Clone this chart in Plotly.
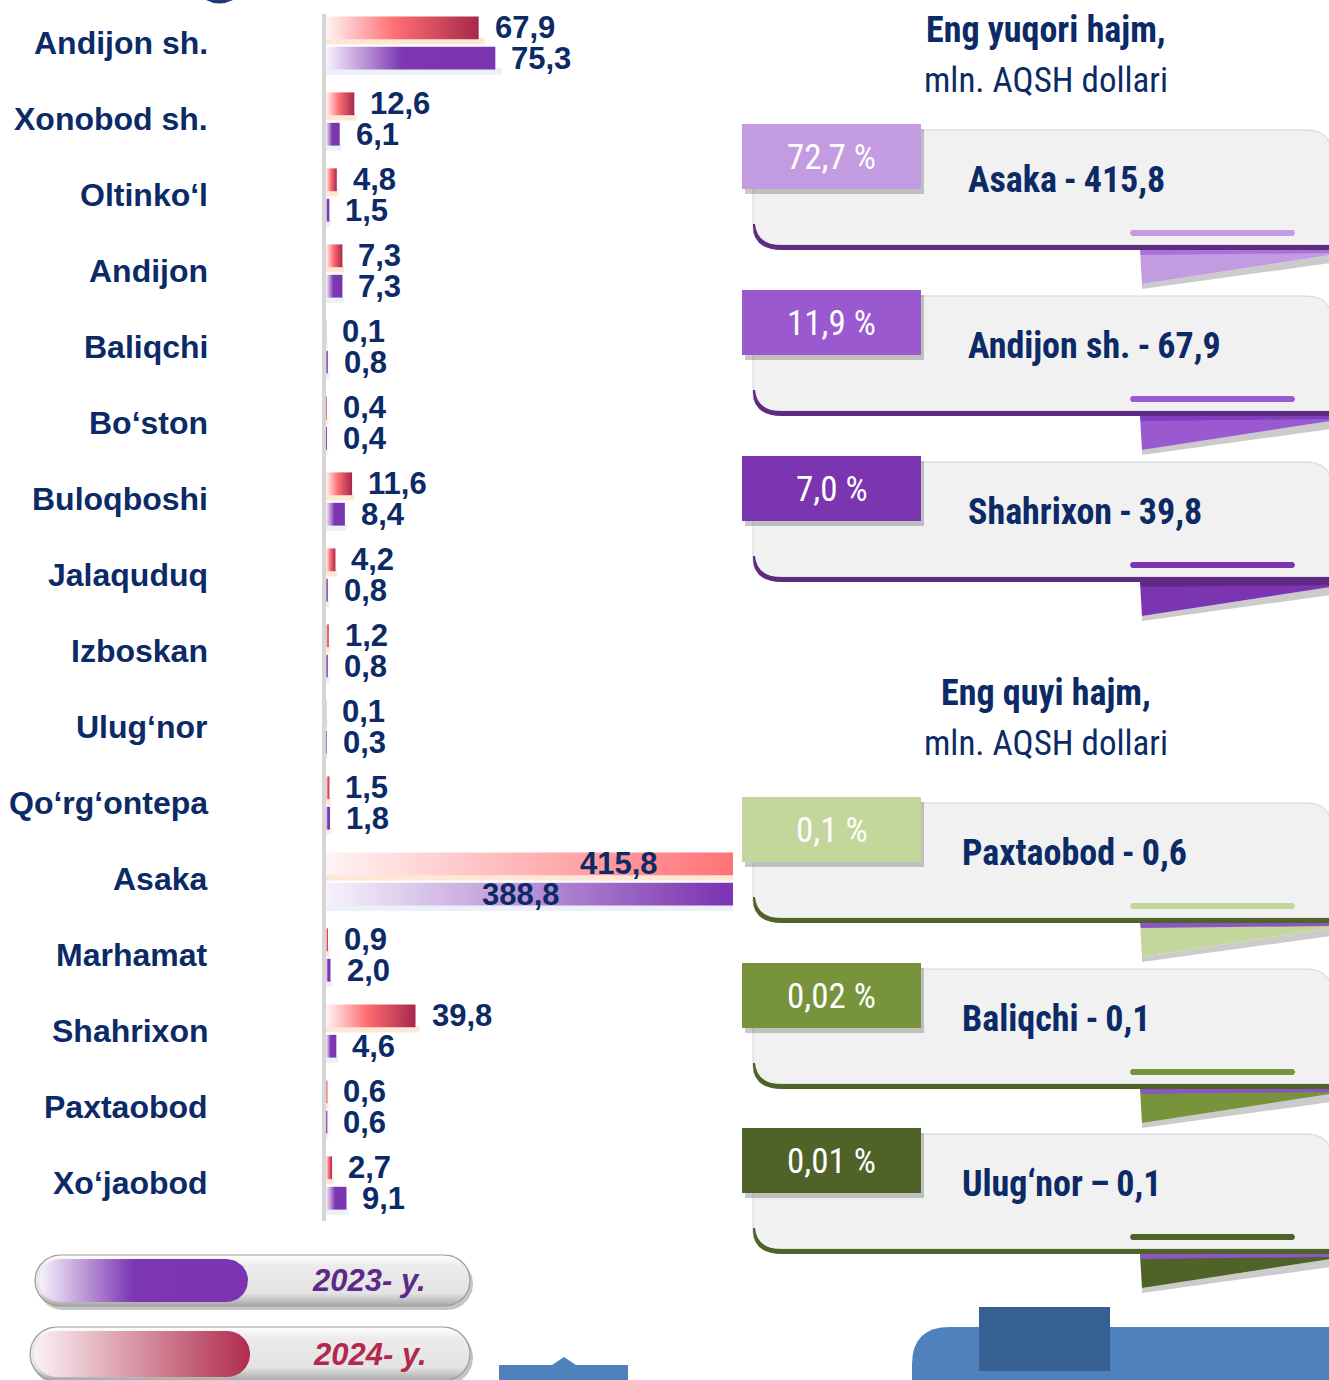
import numpy as np
import plotly.graph_objects as go

# ---- data -------------------------------------------------------------
districts = ["Andijon sh.", "Xonobod sh.", "Oltinko‘l", "Andijon", "Baliqchi", "Bo‘ston",
             "Buloqboshi", "Jalaquduq", "Izboskan", "Ulug‘nor", "Qo‘rg‘ontepa", "Asaka",
             "Marhamat", "Shahrixon", "Paxtaobod", "Xo‘jaobod"]
vol_2024 = [67.9, 12.6, 4.8, 7.3, 0.1, 0.4, 11.6, 4.2, 1.2, 0.1, 1.5, 415.8, 0.9, 39.8, 0.6, 2.7]
vol_2023 = [75.3, 6.1, 1.5, 7.3, 0.8, 0.4, 8.4, 0.8, 0.8, 0.3, 1.8, 388.8, 2.0, 4.6, 0.6, 9.1]

legend_years = ["2023- y.", "2024- y."]

headings = ["Eng yuqori hajm,", "Eng quyi hajm,"]
unit_text = "mln. AQSH dollari"

top_labels = ["Asaka\u2009-\u2009415,8", "Andijon sh.\u2009-\u200967,9", "Shahrixon\u2009-\u200939,8"]
top_shares = ["72,7 %", "11,9 %", "7,0 %"]
low_labels = ["Paxtaobod\u2009-\u20090,6", "Baliqchi\u2009-\u20090,1", "Ulug‘nor\u2009–\u20090,1"]
low_shares = ["0,1 %", "0,02 %", "0,01 %"]

# ---- styling ----------------------------------------------------------
W, H = 1329, 1380
NAVY = "#0c2a66"
FONT = "Liberation Sans, Arial, sans-serif"
NARROW = "Noto Sans Condensed, Roboto Condensed, Liberation Sans Narrow, Arial Narrow, sans-serif"
RED_SCALE = [[0, "#fff4f4"], [0.45, "#ff6e72"], [1, "#a6284b"]]
PURPLE_SCALE = [[0, "#f7f2fb"], [0.45, "#7d37b2"], [1, "#7a34b0"]]
X_MAX = 181  # the axis ends here; longer bars run off the right edge


def fmt(v):
    return f"{v:.1f}".replace(".", ",")


fig = go.Figure()

# ---- bars (drawn as gradient-filled boxes on the x/y axes) -------------
for i, (v24, v23) in enumerate(zip(vol_2024, vol_2023)):
    for v, y0, y1, scale, glow in (
        (v24, i - 0.35, i - 0.05, RED_SCALE, "rgba(250,185,135,0.35)"),
        (v23, i + 0.05, i + 0.35, PURPLE_SCALE, "rgba(200,212,235,0.35)"),
    ):
        # soft glow under the bar
        fig.add_trace(go.Scatter(
            x=[0, v * 1.03 + 0.6, v * 1.03 + 0.6, 0, 0],
            y=[y1 - 0.02, y1 - 0.02, y1 + 0.07, y1 + 0.07, y1 - 0.02],
            mode="lines", line=dict(width=0), fill="toself", fillcolor=glow,
            hoverinfo="skip", showlegend=False, xaxis="x", yaxis="y"))
        fig.add_trace(go.Scatter(
            x=[0, v, v, 0, 0], y=[y0, y0, y1, y1, y0],
            mode="lines", line=dict(width=0), fill="toself",
            fillgradient=dict(type="horizontal", colorscale=scale, start=0, stop=v),
            hoverinfo="skip", showlegend=False, xaxis="x", yaxis="y"))

annotations = []
for i, name in enumerate(districts):
    annotations.append(dict(
        x=210 / W, xref="paper", y=i, yref="y", text=name, showarrow=False,
        xanchor="right", yanchor="middle",
        font=dict(family=FONT, size=32, color=NAVY, weight="bold")))
    for v, yc, inside_pos in ((vol_2024[i], i - 0.2, 0.72), (vol_2023[i], i + 0.2, 0.478)):
        if v > X_MAX:
            annotations.append(dict(
                x=X_MAX * inside_pos, xref="x", y=yc, yref="y", text=fmt(v),
                showarrow=False, xanchor="center", yanchor="middle",
                font=dict(family=FONT, size=31, color=NAVY, weight="bold")))
        else:
            annotations.append(dict(
                x=v, xref="x", y=yc, yref="y", text=fmt(v), showarrow=False,
                xanchor="left", yanchor="middle", xshift=14,
                font=dict(family=FONT, size=31, color=NAVY, weight="bold")))

# ---- decoration layer in page pixels (x2/y2) --------------------------
shapes = []


def px_path(d, fill, line_color=None, line_width=0, layer="above"):
    shapes.append(dict(type="path", path=d, xref="x2", yref="y2", fillcolor=fill,
                       line=dict(color=line_color or fill, width=line_width), layer=layer))


def px_rect(x0, y0, x1, y1, fill, layer="above"):
    shapes.append(dict(type="rect", x0=x0, y0=y0, x1=x1, y1=y1, xref="x2", yref="y2",
                       fillcolor=fill, line=dict(width=0), layer=layer))


# value axis line
shapes.append(dict(type="line", x0=324, x1=324, y0=14, y1=1221, xref="x2", yref="y2",
                   line=dict(color="#d6d6d6", width=4)))

# small mark at the top edge
px_path("M 206,0 Q 219,7 233,0 Z", "#1f3a6e")


def card(top, tab_color, border_color, strip_color, share, label, label_x):
    x_tab0, x_tab1 = 742, 921
    # body
    px_path(f"M 753,{top+6} L 1305,{top+6} Q 1331,{top+6} 1331,{top+28} "
            f"L 1331,{top+121} L 776,{top+121} Q 753,{top+121} 753,{top+104} Z",
            "#f1f1f1", "#d4d4d4", 1)
    # curled bottom edge
    px_path(f"M 753,{top+100} Q 752,{top+126} 782,{top+126} L 1331,{top+126} "
            f"L 1331,{top+121} L 782,{top+121} Q 757,{top+121} 755,{top+100} Z",
            border_color)
    # accent line
    px_path(f"M 1132,{top+106} L 1293,{top+106} Q 1297,{top+109} 1293,{top+112} "
            f"L 1132,{top+112} Q 1128,{top+109} 1132,{top+106} Z", tab_color)
    # folded ribbon end
    px_path(f"M 1142,{top+160} L 1331,{top+131} L 1331,{top+139} L 1142,{top+165} Z",
            "rgba(70,70,70,0.28)")
    px_path(f"M 1140,{top+126} L 1331,{top+126} L 1331,{top+131} L 1142,{top+160} Z",
            tab_color)
    px_path(f"M 1140,{top+126} L 1331,{top+126} L 1331,{top+129} L 1141,{top+131} Z",
            strip_color)
    # tab with drop shadow
    px_rect(x_tab0 + 3, top + 5, x_tab1 + 3, top + 70, "rgba(60,60,60,0.28)")
    px_rect(x_tab0, top, x_tab1, top + 65, tab_color)
    annotations.append(dict(x=(x_tab0 + x_tab1) / 2, y=top + 33, xref="x2", yref="y2",
                            text=share, showarrow=False, xanchor="center", yanchor="middle",
                            font=dict(family=NARROW, size=35, color="white")))
    annotations.append(dict(x=label_x, y=top + 56, xref="x2", yref="y2",
                            text=label, showarrow=False, xanchor="left", yanchor="middle",
                            font=dict(family=NARROW, size=36, color=NAVY, weight="bold")))


top_tabs = ["#c39be0", "#9b59d0", "#7b35b0"]
top_strips = ["#a673d6", "#7d3fbc", "#5e2a86"]
low_tabs = ["#c3d69b", "#77933c", "#4f6228"]
for k, top in enumerate([124, 290, 456]):
    card(top, top_tabs[k], "#5e2a84", top_strips[k], top_shares[k], top_labels[k], 966)
for k, top in enumerate([797, 963, 1128]):
    card(top, low_tabs[k], "#4f6228", "#8b55c4", low_shares[k], low_labels[k], 960)

for head, yh in zip(headings, [30, 693]):
    annotations.append(dict(x=1046, y=yh, xref="x2", yref="y2", text=head, showarrow=False,
                            xanchor="center", yanchor="middle",
                            font=dict(family=NARROW, size=36, color=NAVY, weight="bold")))
    annotations.append(dict(x=1046, y=yh + 50, xref="x2", yref="y2", text=unit_text,
                            showarrow=False, xanchor="center", yanchor="middle",
                            font=dict(family=NARROW, size=35, color=NAVY)))

# bottom blue blocks
px_path("M 912,1381 L 912,1364 Q 912,1327 950,1327 L 1331,1327 L 1331,1381 Z", "#4f81bd")
px_rect(979, 1307, 1110, 1371, "#366092")
px_path("M 499,1381 L 499,1365 L 552,1365 L 564,1357 L 576,1365 L 628,1365 L 628,1381 Z",
        "#4f81bd")


# legend pills
def pill(x0, x1, y0, y1, n=30):
    r = (y1 - y0) / 2
    cy = (y0 + y1) / 2
    a = np.linspace(-np.pi / 2, np.pi / 2, n)
    b = np.linspace(np.pi / 2, 3 * np.pi / 2, n)
    xs = np.concatenate([x1 - r + r * np.cos(a), x0 + r + r * np.cos(b)])
    ys = np.concatenate([cy + r * np.sin(a), cy + r * np.sin(b)])
    return np.append(xs, xs[0]), np.append(ys, ys[0])


legend_specs = [
    (35, 470, 1255, 1306, 248, PURPLE_SCALE, "#5b2a86"),
    (30, 470, 1327, 1381, 250, [[0, "#fbf1f4"], [1, "#b02c4d"]], "#b3294e"),
]
for (x0, x1, y0, y1, xg, scale, tcol), year in zip(legend_specs, legend_years):
    # shadow
    sx, sy = pill(x0 + 2, x1 + 3, y0 + 3, y1 + 4)
    fig.add_trace(go.Scatter(x=sx, y=sy, mode="lines", line=dict(width=0), fill="toself",
                             fillcolor="rgba(90,90,90,0.35)", hoverinfo="skip",
                             showlegend=False, xaxis="x2", yaxis="y2"))
    ox, oy = pill(x0, x1, y0, y1)
    fig.add_trace(go.Scatter(
        x=ox, y=oy, mode="lines", line=dict(width=1.2, color="#9c9c9c"), fill="toself",
        fillgradient=dict(type="vertical", start=y0, stop=y1,
                          colorscale=[[0, "#ffffff"], [0.2, "#ececec"], [0.75, "#e3e3e3"],
                                      [1, "#a6a6a6"]]),
        hoverinfo="skip", showlegend=False, xaxis="x2", yaxis="y2"))
    ix, iy = pill(x0 + 4, xg, y0 + 4, y1 - 4)
    fig.add_trace(go.Scatter(
        x=ix, y=iy, mode="lines", line=dict(width=0), fill="toself",
        fillgradient=dict(type="horizontal", start=x0 + 4, stop=xg, colorscale=scale),
        hoverinfo="skip", showlegend=False, xaxis="x2", yaxis="y2"))
    annotations.append(dict(x=(xg + x1) / 2 + 10, y=(y0 + y1) / 2, xref="x2", yref="y2",
                            text=year, showarrow=False, xanchor="center", yanchor="middle",
                            font=dict(family=FONT, size=31, color=tcol, weight="bold",
                                      style="italic")))

fig.update_layout(
    width=W, height=H, margin=dict(l=0, r=0, t=0, b=0),
    paper_bgcolor="white", plot_bgcolor="rgba(0,0,0,0)",
    showlegend=False,
    xaxis=dict(domain=[326 / W, 733 / W], range=[0, X_MAX], visible=False, fixedrange=True),
    yaxis=dict(domain=[1 - 1221 / H, 1 - 5 / H], range=[15.5, -0.5], visible=False,
               fixedrange=True),
    xaxis2=dict(domain=[0, 1], range=[0, W], visible=False, anchor="y2", fixedrange=True),
    yaxis2=dict(domain=[0, 1], range=[H, 0], visible=False, anchor="x2", fixedrange=True),
    shapes=shapes,
    annotations=annotations,
)

fig.write_html("out.html")
